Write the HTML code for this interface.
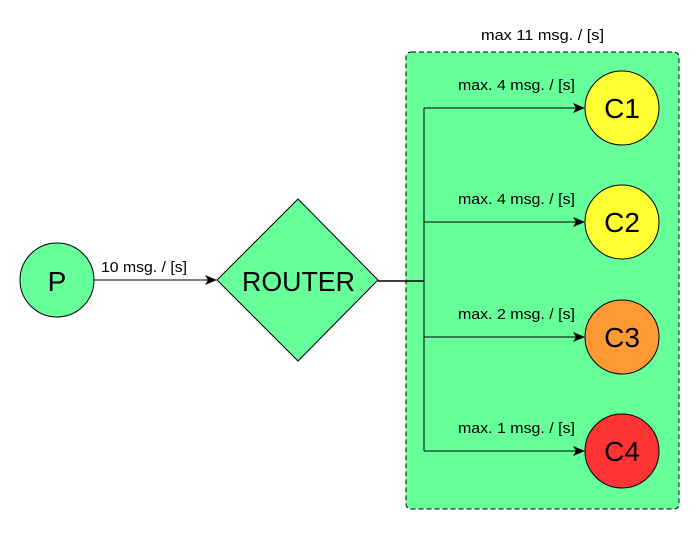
<!DOCTYPE html>
<html><head><style>body{margin:0;background:#fff}</style></head><body>
<svg width="700" height="529" xmlns="http://www.w3.org/2000/svg" font-family="Liberation Sans, Arial, sans-serif">
<defs><marker id="a" markerWidth="12" markerHeight="10" refX="11" refY="5" orient="auto" markerUnits="userSpaceOnUse"><path d="M0,0 L12,5 L0,10 L3,5 Z" fill="#000"/></marker></defs>
<rect x="406" y="52" width="273" height="457" rx="5" fill="#66ff99" stroke="#000" stroke-dasharray="5,3"/>
<text x="481" y="40" font-size="15" textLength="123" lengthAdjust="spacingAndGlyphs">max 11 msg. / [s]</text>
<circle cx="57" cy="280" r="37" fill="#66ff99" stroke="#000"/>
<text x="57" y="291" font-size="28" text-anchor="middle">P</text>
<line x1="94" y1="280" x2="216" y2="280" stroke="#000" marker-end="url(#a)"/>
<text x="101" y="272" font-size="15" textLength="86" lengthAdjust="spacingAndGlyphs">10 msg. / [s]</text>
<polygon points="298,199 378,280 298,361 217,280" fill="#66ff99" stroke="#000"/>
<text x="242" y="291" font-size="28" textLength="113" lengthAdjust="spacingAndGlyphs">ROUTER</text>
<line x1="378" y1="281" x2="424" y2="281" stroke="#000" stroke-width="1.5"/>
<line x1="424" y1="108" x2="424" y2="451" stroke="#000"/>
<g font-size="15">
<line x1="424" y1="108" x2="584" y2="108" stroke="#000" marker-end="url(#a)"/>
<text x="458" y="90" textLength="117" lengthAdjust="spacingAndGlyphs">max. 4 msg. / [s]</text>
<circle cx="622" cy="108" r="37" fill="#ffff33" stroke="#000"/>
<line x1="424" y1="222" x2="584" y2="222" stroke="#000" marker-end="url(#a)"/>
<text x="458" y="204" textLength="117" lengthAdjust="spacingAndGlyphs">max. 4 msg. / [s]</text>
<circle cx="622" cy="222" r="37" fill="#ffff33" stroke="#000"/>
<line x1="424" y1="337" x2="584" y2="337" stroke="#000" marker-end="url(#a)"/>
<text x="458" y="319" textLength="117" lengthAdjust="spacingAndGlyphs">max. 2 msg. / [s]</text>
<circle cx="622" cy="337" r="37" fill="#ff9933" stroke="#000"/>
<line x1="424" y1="451" x2="584" y2="451" stroke="#000" marker-end="url(#a)"/>
<text x="458" y="433" textLength="117" lengthAdjust="spacingAndGlyphs">max. 1 msg. / [s]</text>
<circle cx="622" cy="451" r="37" fill="#ff3333" stroke="#000"/>
</g>
<g font-size="28" text-anchor="middle">
<text x="622" y="118">C1</text><text x="622" y="232">C2</text><text x="622" y="347">C3</text><text x="622" y="461">C4</text>
</g>
</svg>
</body></html>
